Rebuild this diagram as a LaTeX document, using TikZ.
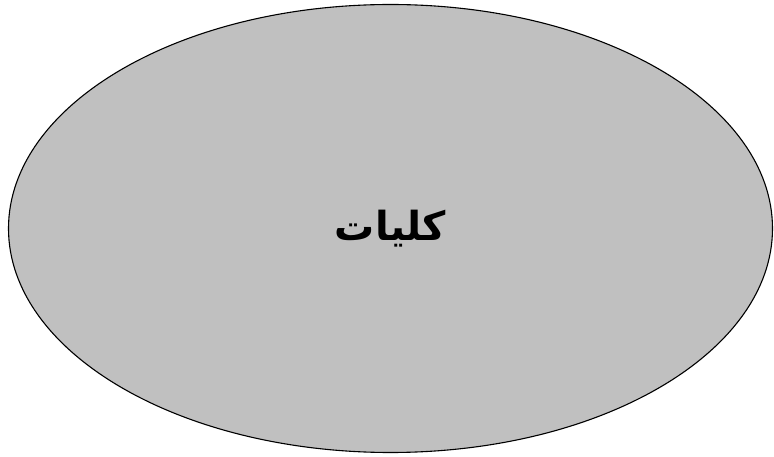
\documentclass[tikz,border=0pt]{standalone}
\usepackage{fontspec}
\newfontfamily\arabicfont[Script=Arabic]{DejaVu Sans}
\TeXXeTstate=1
\definecolor{topicgray}{HTML}{C0C0C0}
\usetikzlibrary{shapes.geometric}
\tikzset{
  topicoval/.style={
    ellipse, draw=black, line width=1.1pt, fill=topicgray,
    minimum width=764pt, minimum height=448pt, inner sep=0pt,
    font=\arabicfont\bfseries\fontsize{40}{48}\selectfont
  }
}

\begin{document}
\begin{tikzpicture}[x=1pt, y=-1pt]

% ── Canvas (image size, y grows downward) ────────────────────────────────────
\useasboundingbox (0,0) rectangle (774,457);

% ── The one topic oval ───────────────────────────────────────────────────────
\node[topicoval] (topic) at (390.5,228.5) {\raisebox{3pt}{\beginR كليات\endR}};

\end{tikzpicture}
\end{document}
